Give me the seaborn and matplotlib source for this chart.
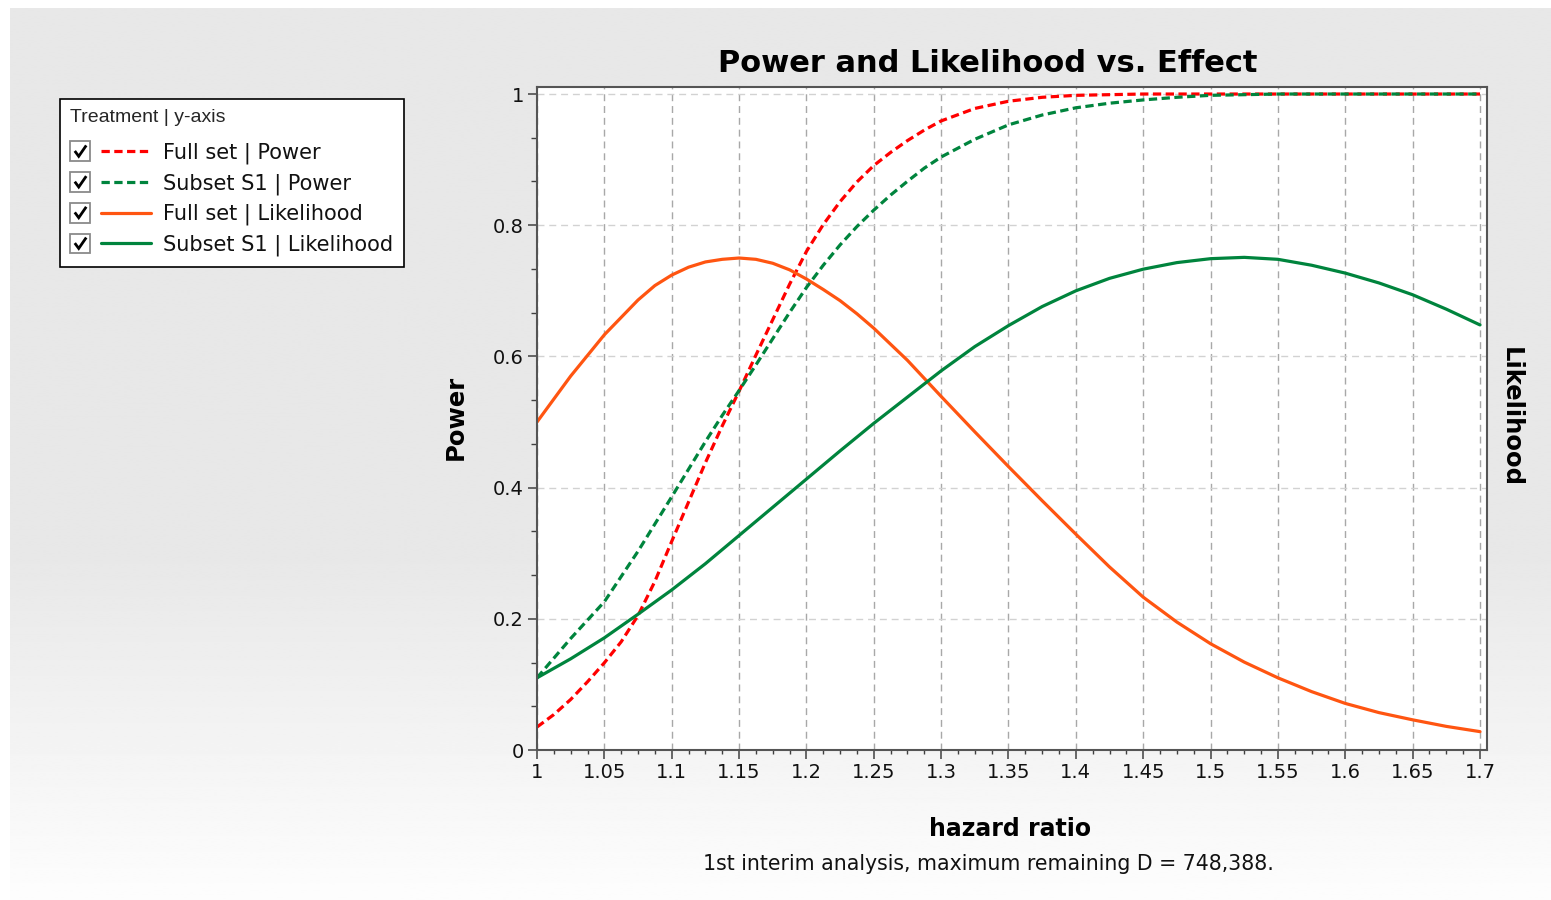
import numpy as np
import pandas as pd
import matplotlib
matplotlib.use("Agg")
import matplotlib.pyplot as plt
import seaborn as sns
from matplotlib.legend_handler import HandlerBase
from matplotlib.patches import Rectangle
from matplotlib.lines import Line2D
from matplotlib.ticker import FixedLocator, MultipleLocator

# ---------------- data ----------------
hr_power_full = [1.0, 1.0125, 1.025, 1.0375, 1.05, 1.0625, 1.075, 1.0875, 1.1, 1.1125,
                 1.125, 1.1375, 1.15, 1.1625, 1.175, 1.1875, 1.2, 1.2125, 1.225, 1.2375,
                 1.25, 1.2625, 1.275, 1.2875, 1.3, 1.325, 1.35, 1.375, 1.4, 1.425,
                 1.45, 1.5, 1.55, 1.6, 1.65, 1.7]
power_full = [0.035, 0.054, 0.077, 0.104, 0.133, 0.165, 0.205, 0.257, 0.318, 0.378,
              0.438, 0.494, 0.547, 0.602, 0.656, 0.710, 0.760, 0.801, 0.836, 0.866,
              0.891, 0.911, 0.929, 0.945, 0.959, 0.978, 0.989, 0.995, 0.998, 0.999,
              1.000, 1.000, 1.000, 1.000, 1.000, 1.000]

hr_power_subset = [1.0, 1.0125, 1.025, 1.05, 1.075, 1.1, 1.1125, 1.125, 1.1375, 1.15,
                   1.1625, 1.175, 1.1875, 1.2, 1.2125, 1.225, 1.2375, 1.25, 1.2625, 1.275,
                   1.2875, 1.3, 1.325, 1.35, 1.375, 1.4, 1.425, 1.45, 1.475, 1.5,
                   1.525, 1.55, 1.6, 1.65, 1.7]
power_subset = [0.110, 0.140, 0.170, 0.226, 0.303, 0.386, 0.428, 0.470, 0.510, 0.548,
                0.587, 0.627, 0.667, 0.705, 0.739, 0.770, 0.798, 0.823, 0.846, 0.867,
                0.887, 0.904, 0.931, 0.953, 0.968, 0.979, 0.986, 0.991, 0.995, 0.998,
                0.999, 1.000, 1.000, 1.000, 1.000]

hr_lik_full = [1.0, 1.025, 1.05, 1.075, 1.0875, 1.1, 1.1125, 1.125, 1.1375, 1.15,
               1.1625, 1.175, 1.1875, 1.2, 1.2125, 1.225, 1.2375, 1.25, 1.275, 1.3,
               1.325, 1.35, 1.375, 1.4, 1.425, 1.45, 1.475, 1.5, 1.525, 1.55,
               1.575, 1.6, 1.625, 1.65, 1.675, 1.7]
lik_full = [0.500, 0.570, 0.633, 0.686, 0.708, 0.724, 0.736, 0.744, 0.748, 0.750,
            0.748, 0.742, 0.732, 0.718, 0.702, 0.685, 0.665, 0.643, 0.594, 0.539,
            0.485, 0.432, 0.380, 0.329, 0.279, 0.233, 0.195, 0.162, 0.134, 0.110,
            0.089, 0.071, 0.057, 0.046, 0.036, 0.028]

hr_lik_subset = [1.0, 1.025, 1.05, 1.075, 1.1, 1.125, 1.15, 1.175, 1.2, 1.225,
                 1.25, 1.275, 1.3, 1.325, 1.35, 1.375, 1.4, 1.425, 1.45, 1.475,
                 1.5, 1.525, 1.55, 1.575, 1.6, 1.625, 1.65, 1.675, 1.7]
lik_subset = [0.110, 0.139, 0.171, 0.207, 0.244, 0.284, 0.327, 0.370, 0.413, 0.456,
              0.498, 0.538, 0.578, 0.615, 0.647, 0.676, 0.700, 0.719, 0.733, 0.743,
              0.749, 0.751, 0.748, 0.739, 0.727, 0.712, 0.694, 0.672, 0.648]

series_names = ["Full set | Power", "Subset S1 | Power",
                "Full set | Likelihood", "Subset S1 | Likelihood"]
series_x = [hr_power_full, hr_power_subset, hr_lik_full, hr_lik_subset]
series_values = [power_full, power_subset, lik_full, lik_subset]
series_colors = ["#ff0000", "#00843d", "#ff5511", "#00843d"]
series_dashes = [(2.6, 1.4), (2.6, 1.4), "", ""]

x_ticks = [1.0, 1.05, 1.1, 1.15, 1.2, 1.25, 1.3, 1.35, 1.4, 1.45, 1.5, 1.55, 1.6, 1.65, 1.7]
x_tick_labels = ["1", "1.05", "1.1", "1.15", "1.2", "1.25", "1.3", "1.35", "1.4",
                 "1.45", "1.5", "1.55", "1.6", "1.65", "1.7"]
y_ticks = [0.0, 0.2, 0.4, 0.6, 0.8, 1.0]
y_tick_labels = ["0", "0.2", "0.4", "0.6", "0.8", "1"]

title_text = "Power and Likelihood vs. Effect"
xlabel_text = "hazard ratio"
subtitle_text = "1st interim analysis, maximum remaining D = 748,388."
ylabel_left = "Power"
ylabel_right = "Likelihood"
legend_title = "Treatment | y-axis"

# ---------------- style ----------------
sns.set_theme(style="white")
plt.rcParams["font.family"] = ["DejaVu Sans"]

W, H = 1551, 900
fig = plt.figure(figsize=(W / 100, H / 100), dpi=100)
fig.patch.set_facecolor("white")

# background gradient panel
bg = fig.add_axes([10 / W, 0, 1 - 10 / W, 1 - 8 / H], zorder=-10)
t = np.linspace(0, 1, 400)  # 0 = top, 1 = bottom
vals = np.where(t < 0.62, 232, 232 + (253 - 232) * ((t - 0.62) / 0.38))
grad = np.repeat((vals / 255.0)[:, None], 2, axis=1)
bg.imshow(grad, aspect="auto", cmap="gray", vmin=0, vmax=1,
          extent=[0, 1, 0, 1], interpolation="bilinear")
bg.set_axis_off()

# main axes
ax = fig.add_axes([537 / W, 1 - 750 / H, 950 / W, 663 / H])
ax.set_facecolor("white")

df = pd.concat([
    pd.DataFrame({"hazard": xs, "value": v, "series": n})
    for n, xs, v in zip(series_names, series_x, series_values)
], ignore_index=True)

sns.lineplot(data=df, x="hazard", y="value", hue="series", style="series",
             hue_order=series_names, style_order=series_names,
             palette=dict(zip(series_names, series_colors)),
             dashes=dict(zip(series_names, series_dashes)),
             linewidth=2.3, estimator=None, sort=True, legend=False, ax=ax)

ax.set_xlim(1.0, 1.7052)
ax.set_ylim(0.0, 1.0107)
ax.xaxis.set_major_locator(FixedLocator(x_ticks))
ax.set_xticklabels(x_tick_labels)
ax.xaxis.set_minor_locator(MultipleLocator(0.0125))
ax.yaxis.set_major_locator(FixedLocator(y_ticks))
ax.set_yticklabels(y_tick_labels)
ax.yaxis.set_minor_locator(MultipleLocator(0.2 / 3))

ax.tick_params(axis="both", which="major", direction="out", length=6.5, width=1.1,
               color="#404040", labelsize=14, labelcolor="#111111", pad=3)
ax.tick_params(axis="x", which="minor", direction="out", length=3.2, width=1.0, color="#404040")
ax.tick_params(axis="y", which="minor", direction="out", length=4.5, width=1.0, color="#404040")
ax.tick_params(left=True, bottom=True, which="both")

ax.grid(False)
for xv in x_ticks:
    ax.axvline(xv, color="#a8a8a8", lw=1.0, ls=(0, (5, 3.5)), zorder=0.5)
for yv in y_ticks:
    ax.axhline(yv, color="#d2d2d2", lw=1.0, ls=(0, (5, 3.5)), zorder=0.5)

for side in ["left", "bottom", "top", "right"]:
    ax.spines[side].set_visible(True)
    ax.spines[side].set_color("#555555")
    ax.spines[side].set_linewidth(1.5)
ax.set_xlabel("")
ax.set_ylabel("")

# texts
fig.text(988 / W, 1 - 64 / H, title_text, ha="center", va="center",
         fontsize=22, fontweight="bold", color="black")
fig.text(1010 / W, 1 - 829 / H, xlabel_text, ha="center", va="center",
         fontsize=17, fontweight="bold", color="black")
fig.text(988 / W, 1 - 864 / H, subtitle_text, ha="center", va="center",
         fontsize=14.8, color="#111111")
fig.text(456 / W, 1 - 417 / H, ylabel_left, ha="center", va="center",
         rotation=90, fontsize=17.5, fontweight="bold", color="black")
fig.text(1511 / W, 1 - 417 / H, ylabel_right, ha="center", va="center",
         rotation=-90, fontsize=17.5, fontweight="bold", color="black")


# legend with checkbox handles
class CheckLineHandler(HandlerBase):
    def create_artists(self, legend, orig_handle, xdescent, ydescent,
                       width, height, fontsize, trans):
        s = 0.95 * fontsize
        gap = 0.5 * fontsize
        x0 = -xdescent
        yc = -ydescent + height / 2.0
        box = Rectangle((x0, yc - s / 2), s, s, facecolor="white",
                        edgecolor="#8a8a8a", lw=1.3, transform=trans)
        check = Line2D([x0 + 0.22 * s, x0 + 0.42 * s, x0 + 0.80 * s],
                       [yc + 0.02 * s, yc - 0.25 * s, yc + 0.30 * s],
                       color="black", lw=2.0, transform=trans,
                       solid_capstyle="butt", solid_joinstyle="miter")
        line = Line2D([0, 1], [0, 1])
        line.update_from(orig_handle)
        line.set_data([x0 + s + gap, x0 + width], [yc, yc])
        line.set_transform(trans)
        line.set_clip_box(None)
        line.set_clip_path(None)
        line.set_clip_on(False)
        return [box, check, line]


handles = list(ax.get_lines())[:len(series_names)]
leg = fig.legend(handles, series_names, loc="upper left",
                 bbox_to_anchor=(60 / W, 1 - 99 / H), bbox_transform=fig.transFigure,
                 borderaxespad=0, frameon=True, fancybox=False,
                 handler_map={Line2D: CheckLineHandler()},
                 handlelength=3.85, handleheight=1.0, handletextpad=0.6,
                 labelspacing=0.42, borderpad=0.5, fontsize=15,
                 title=legend_title, alignment="left")
leg._legend_box.sep = 0.75 * 15
leg.get_title().set_fontfamily(["Liberation Sans", "DejaVu Sans"])
leg.get_title().set_fontsize(14)
leg.get_frame().set_edgecolor("black")
leg.get_frame().set_linewidth(1.2)
leg.get_frame().set_facecolor("white")
leg.get_frame().set_alpha(1.0)
for txt in leg.get_texts():
    txt.set_color("#111111")

fig.savefig("out.png", dpi=100)
